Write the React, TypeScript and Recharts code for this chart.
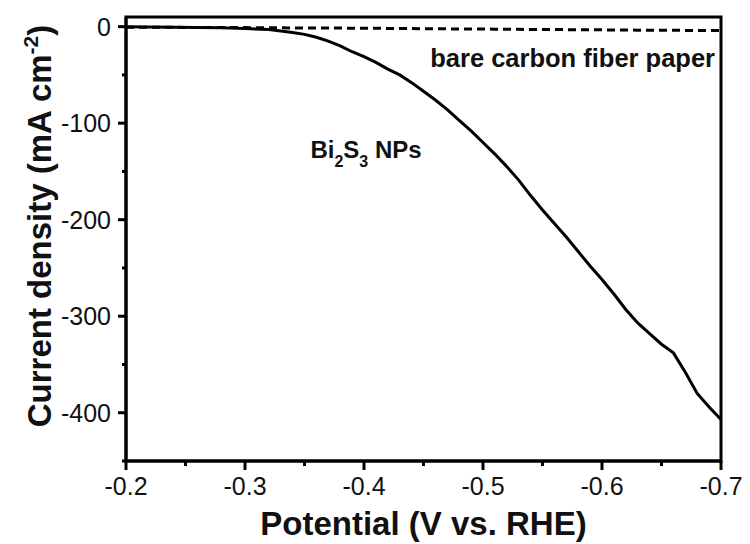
import { LineChart, Line, XAxis, YAxis, ReferenceArea, ReferenceDot } from "recharts";

const FONT = "'Liberation Sans', Arial, sans-serif";

// potential (V vs. RHE)
const potential = [
  -0.2, -0.22, -0.24, -0.26, -0.28, -0.3, -0.32, -0.34, -0.35, -0.36, -0.37, -0.38, -0.39,
  -0.4, -0.41, -0.42, -0.43, -0.44, -0.45, -0.46, -0.47, -0.48, -0.49, -0.5, -0.51, -0.52,
  -0.53, -0.54, -0.55, -0.56, -0.57, -0.58, -0.59, -0.6, -0.61, -0.62, -0.63, -0.64, -0.65,
  -0.66, -0.67, -0.68, -0.69, -0.7,
];
// Bi2S3 NPs current density (mA cm-2)
const bi2s3 = [
  0, -0.3, -0.5, -0.8, -1.2, -2, -3, -6, -8, -11, -15, -20, -26,
  -31, -37, -44, -50, -58, -67, -76, -86, -97, -108, -120, -132, -145,
  -159, -175, -190, -204, -218, -233, -248, -262, -277, -293, -307, -318, -329,
  -338, -358, -380, -394, -407,
];
// bare carbon fiber paper
const bare = [
  -0.5, -0.6, -0.7, -0.8, -0.9, -1, -1.1, -1.3, -1.4, -1.4, -1.5, -1.5, -1.6,
  -1.6, -1.7, -1.8, -1.9, -2, -2.1, -2.2, -2.3, -2.4, -2.5, -2.5, -2.6, -2.7,
  -2.8, -2.9, -3, -3, -3.1, -3.2, -3.3, -3.3, -3.4, -3.5, -3.6, -3.6, -3.7,
  -3.8, -3.9, -3.9, -4, -4,
];

const xTicks = [-0.2, -0.25, -0.3, -0.35, -0.4, -0.45, -0.5, -0.55, -0.6, -0.65, -0.7];
const yTicks = [0, -50, -100, -150, -200, -250, -300, -350, -400, -450];

const data = potential.map((v, i) => ({ v, bi: bi2s3[i], bare: bare[i] }));

const XTick = (props: any) => {
  const { x, y, payload } = props;
  const val = payload.value;
  const major = Math.abs(val * 10 - Math.round(val * 10)) < 1e-6;
  return (
    <g>
      <line x1={x} y1={y} x2={x} y2={y + (major ? 9 : 5)} stroke="#000" strokeWidth={3} />
      {major && (
        <text x={x} y={y + 34} textAnchor="middle" fontSize={25} fontFamily={FONT} fill="#111">
          {val.toFixed(1)}
        </text>
      )}
    </g>
  );
};

const YTick = (props: any) => {
  const { x, y, payload } = props;
  const val = payload.value;
  const major = val % 100 === 0;
  return (
    <g>
      <line x1={x} y1={y} x2={x - (major ? 8 : 4)} y2={y} stroke="#000" strokeWidth={3} />
      {major && (
        <text x={x - 15} y={y} dy="0.36em" textAnchor="end" fontSize={25} fontFamily={FONT} fill="#111">
          {val}
        </text>
      )}
    </g>
  );
};

const XTitle = (props: any) => {
  const { viewBox } = props;
  return (
    <text x={viewBox.x + viewBox.width / 2} y={viewBox.y + 74} textAnchor="middle"
      fontSize={33} fontWeight="bold" fontFamily={FONT} fill="#111">
      Potential (V vs. RHE)
    </text>
  );
};

const YTitle = (props: any) => {
  const { viewBox } = props;
  const cx = viewBox.x + viewBox.width - 75;
  const cy = viewBox.y + viewBox.height / 2 - 13;
  return (
    <text x={cx} y={cy} transform={`rotate(-90, ${cx}, ${cy})`} textAnchor="middle"
      fontSize={33} fontWeight="bold" fontFamily={FONT} fill="#111">
      Current density (mA cm<tspan dy={-13} fontSize={21}>-2</tspan><tspan dy={13}>)</tspan>
    </text>
  );
};

export default function App() {
  return (
    <div style={{ position: "absolute", left: 0, top: 0, background: "#fff" }}>
      <LineChart width={750} height={544} data={data} margin={{ top: 17, right: 29, bottom: 53, left: 66 }}>
        <XAxis
          dataKey="v"
          type="number"
          domain={[-0.7, -0.2]}
          reversed
          ticks={xTicks}
          interval={0}
          height={30}
          tickSize={0}
          tickMargin={0}
          tick={<XTick />}
          axisLine={{ stroke: "#000", strokeWidth: 3 }}
          label={{ content: <XTitle /> }}
        />
        <YAxis
          type="number"
          domain={[-450, 10]}
          ticks={yTicks}
          interval={0}
          width={60}
          tickSize={0}
          tickMargin={0}
          tick={<YTick />}
          axisLine={{ stroke: "#000", strokeWidth: 3 }}
          label={{ content: <YTitle /> }}
        />
        <ReferenceArea x1={-0.2} x2={-0.7} y1={-450} y2={10} fill="none" stroke="#000" strokeWidth={3} />
        <Line dataKey="bare" type="linear" stroke="#000" strokeWidth={3} strokeDasharray="8 5" dot={false} isAnimationActive={false} />
        <Line dataKey="bi" type="linear" stroke="#000" strokeWidth={3} dot={false} isAnimationActive={false} />
        <ReferenceDot
          x={-0.695}
          y={-42}
          shape={(p: any) => (
            <text x={p.cx} y={p.cy} textAnchor="end" fontSize={25.5} fontWeight="bold" fontFamily={FONT} fill="#111">
              bare carbon fiber paper
            </text>
          )}
        />
        <ReferenceDot
          x={-0.355}
          y={-136}
          shape={(p: any) => (
            <text x={p.cx} y={p.cy} fontSize={24} fontWeight="bold" fontFamily={FONT} fill="#111">
              Bi<tspan dy={9} fontSize={16}>2</tspan><tspan dy={-9}>S</tspan><tspan dy={9} fontSize={16}>3</tspan><tspan dy={-9}> NPs</tspan>
            </text>
          )}
        />
      </LineChart>
    </div>
  );
}
